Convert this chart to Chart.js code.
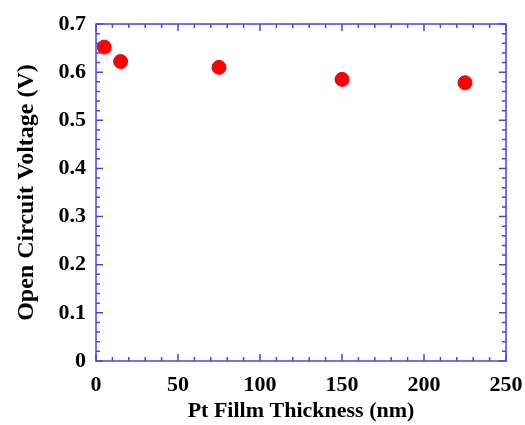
<!DOCTYPE html>
<html><head><meta charset="utf-8">
<script src="https://cdn.jsdelivr.net/npm/chart.js@4/dist/chart.umd.min.js"></script>
<style>html,body{margin:0;padding:0;background:#fff}#wrap{width:525px;height:425px}</style>
</head><body><div id="wrap"><canvas id="c" width="525" height="425"></canvas></div>
<script>
const thicknessNm = [5, 15, 75, 150, 225];
const vocVolts = [0.652, 0.622, 0.610, 0.585, 0.578];
const xMajorTicks = [0, 50, 100, 150, 200, 250];
const yMajorTicks = [0, 0.1, 0.2, 0.3, 0.4, 0.5, 0.6, 0.7];
const xMinorStep = 10;
const yMinorStep = 0.02;

const frameColor = 'rgb(70,70,225)';
const fontFamily = '"Liberation Serif", "Times New Roman", serif';

const framePlugin = {
  id: 'frame',
  afterDatasetsDraw(chart) {
    const {ctx, chartArea: a, scales: {x, y}} = chart;
    ctx.save();
    ctx.strokeStyle = frameColor;
    ctx.lineWidth = 1.5;
    ctx.strokeRect(a.left, a.top, a.right - a.left, a.bottom - a.top);
    ctx.beginPath();
    const xMax = xMajorTicks[xMajorTicks.length - 1];
    for (let i = 0, v = xMajorTicks[0]; v <= xMax + 1e-9; i++, v = xMajorTicks[0] + i * xMinorStep) {
      const px = x.getPixelForValue(v);
      const major = xMajorTicks.some(t => Math.abs(t - v) < 1e-9);
      const len = major ? 7 : 4;
      ctx.moveTo(px, a.bottom); ctx.lineTo(px, a.bottom - len);
      ctx.moveTo(px, a.top); ctx.lineTo(px, a.top + len);
    }
    const yMax = yMajorTicks[yMajorTicks.length - 1];
    for (let i = 0, v = yMajorTicks[0]; v <= yMax + 1e-9; i++, v = yMajorTicks[0] + i * yMinorStep) {
      const py = y.getPixelForValue(v);
      const major = yMajorTicks.some(t => Math.abs(t - v) < 1e-9);
      const len = major ? 7 : 4;
      ctx.moveTo(a.left, py); ctx.lineTo(a.left + len, py);
      ctx.moveTo(a.right, py); ctx.lineTo(a.right - len, py);
    }
    ctx.stroke();
    ctx.restore();
  }
};

new Chart(document.getElementById('c'), {
  type: 'scatter',
  data: {
    datasets: [{
      data: thicknessNm.map((t, i) => ({x: t, y: vocVolts[i]})),
      backgroundColor: '#ff0000',
      borderColor: '#ff0000',
      pointRadius: 7,
      pointHoverRadius: 7
    }]
  },
  options: {
    responsive: false,
    animation: false,
    devicePixelRatio: 1,
    layout: {padding: {top: 24, right: 19, left: 0, bottom: 0}},
    plugins: {legend: {display: false}, tooltip: {enabled: false}},
    scales: {
      x: {
        type: 'linear', min: 0, max: 250,
        afterBuildTicks: s => { s.ticks = xMajorTicks.map(v => ({value: v})); },
        afterFit: s => { s.height = 64; s.paddingRight = 0; s.paddingLeft = 0; },
        grid: {display: false, drawTicks: false},
        border: {display: false},
        ticks: {padding: 11, color: '#000', maxRotation: 0, font: {family: fontFamily, size: 22, weight: 'bold'}},
        title: {display: true, text: 'Pt Fillm Thickness (nm)', color: '#000', padding: {top: 0, bottom: 0}, font: {family: fontFamily, size: 22, weight: 'bold'}}
      },
      y: {
        type: 'linear', min: 0, max: 0.7,
        afterBuildTicks: s => { s.ticks = yMajorTicks.map(v => ({value: v})); },
        afterFit: s => { s.width = 96; s.paddingTop = 0; s.paddingBottom = 0; },
        grid: {display: false, drawTicks: false},
        border: {display: false},
        ticks: {padding: 10, color: '#000', callback: v => String(v), font: {family: fontFamily, size: 22, weight: 'bold'}},
        title: {display: true, text: 'Open Circuit Voltage (V)', color: '#000', padding: {top: 12, bottom: 0}, font: {family: fontFamily, size: 24, weight: 'bold'}}
      }
    }
  },
  plugins: [framePlugin]
});
</script>
</body></html>
